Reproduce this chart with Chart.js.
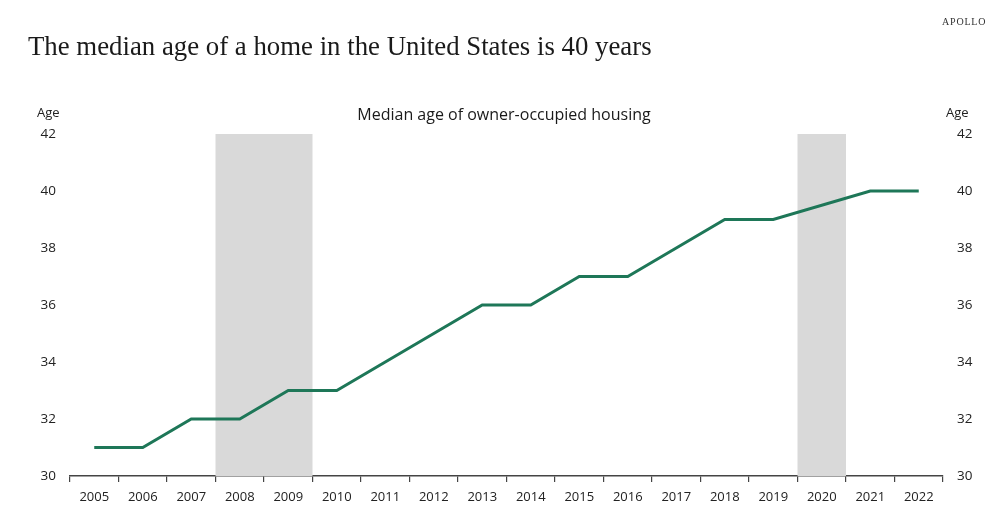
<!DOCTYPE html>
<html>
<head>
<meta charset="utf-8">
<script src="https://cdn.jsdelivr.net/npm/chart.js@4/dist/chart.umd.min.js"></script>
<style>
  html, body { margin: 0; padding: 0; background: #ffffff; }
  #wrap { position: relative; width: 998px; height: 517px; overflow: hidden; }
  #c { position: absolute; left: 0; top: 0; }
  .t { position: absolute; white-space: nowrap; color: #222; }
  #title { left: 28px; top: 31px; font-family: "Liberation Serif", "DejaVu Serif", serif; font-size: 26.8px; color: #1a1a1a; }
  #brand { left: 942px; top: 16px; font-family: "Liberation Serif", serif; font-size: 10px; letter-spacing: 0.8px; color: #333; }
  #sub { left: 0; width: 1008px; text-align: center; top: 103px; font-family: "Open Sans", "Noto Sans", sans-serif; font-size: 16px; color: #1a1a1a; }
  .age { top: 103px; font-family: "Open Sans", "Noto Sans", sans-serif; font-size: 13px; color: #222; }
</style>
</head>
<body>
<div id="wrap">
  <canvas id="c" width="998" height="517"></canvas>
  <div class="t" id="title">The median age of a home in the United States is 40 years</div>
  <div class="t" id="brand">APOLLO</div>
  <div class="t" id="sub">Median age of owner-occupied housing</div>
  <div class="t age" style="left:37px;">Age</div>
  <div class="t age" style="left:946px;">Age</div>
</div>
<script>
const years = ["2005","2006","2007","2008","2009","2010","2011","2012","2013","2014","2015","2016","2017","2018","2019","2020","2021","2022"];
const medianAge = [31,31,32,32,33,33,34,35,36,36,37,37,38,39,39,null,40,40];
const recessions = [["2008","2009"],["2020","2020"]];
const yMin = 30, yMax = 42, yStep = 2;

const shading = {
  id: 'shading',
  beforeDatasetsDraw(chart) {
    const x = chart.scales.x, a = chart.chartArea, ctx = chart.ctx;
    const half = (x.getPixelForValue(1) - x.getPixelForValue(0)) / 2;
    ctx.save();
    ctx.fillStyle = '#d9d9d9';
    recessions.forEach(([s, e]) => {
      const x0 = x.getPixelForValue(years.indexOf(s)) - half;
      const x1 = x.getPixelForValue(years.indexOf(e)) + half;
      ctx.fillRect(x0, a.top, x1 - x0, a.bottom - a.top);
    });
    ctx.restore();
  }
};

const tickFont = { family: "'Open Sans', 'Noto Sans', sans-serif", size: 13 };
const yFont = { family: "'Open Sans', 'Noto Sans', sans-serif", size: 13.5 };
new Chart(document.getElementById('c'), {
  type: 'line',
  data: {
    labels: years,
    datasets: [{
      data: medianAge,
      borderColor: '#1e7758',
      borderWidth: 3,
      pointRadius: 0,
      tension: 0,
      spanGaps: true,
      yAxisID: 'y'
    }]
  },
  options: {
    responsive: false,
    animation: false,
    events: [],
    layout: { padding: { top: 134, left: 0, right: 0, bottom: 0 } },
    plugins: { legend: { display: false }, tooltip: { enabled: false } },
    scales: {
      x: {
        offset: true,
        grid: { display: true, offset: true, drawOnChartArea: false, tickLength: 6, color: '#444', lineWidth: 1.2 },
        border: { display: true, color: '#444', width: 1.5 },
        ticks: { color: '#222', font: tickFont, padding: 7, maxRotation: 0, autoSkip: false },
        afterFit(s) { s.height = 41; }
      },
      y: {
        position: 'left',
        min: yMin, max: yMax,
        grid: { display: false },
        border: { display: false },
        ticks: { stepSize: yStep, color: '#222', font: yFont, padding: 6 },
        afterFit(s) { s.width = 70; }
      },
      y2: {
        position: 'right',
        display: true,
        min: yMin, max: yMax,
        grid: { display: false },
        border: { display: false },
        ticks: { stepSize: yStep, color: '#222', font: yFont, padding: 6 },
        afterFit(s) { s.width = 55; }
      }
    }
  },
  plugins: [shading]
});
</script>
</body>
</html>
